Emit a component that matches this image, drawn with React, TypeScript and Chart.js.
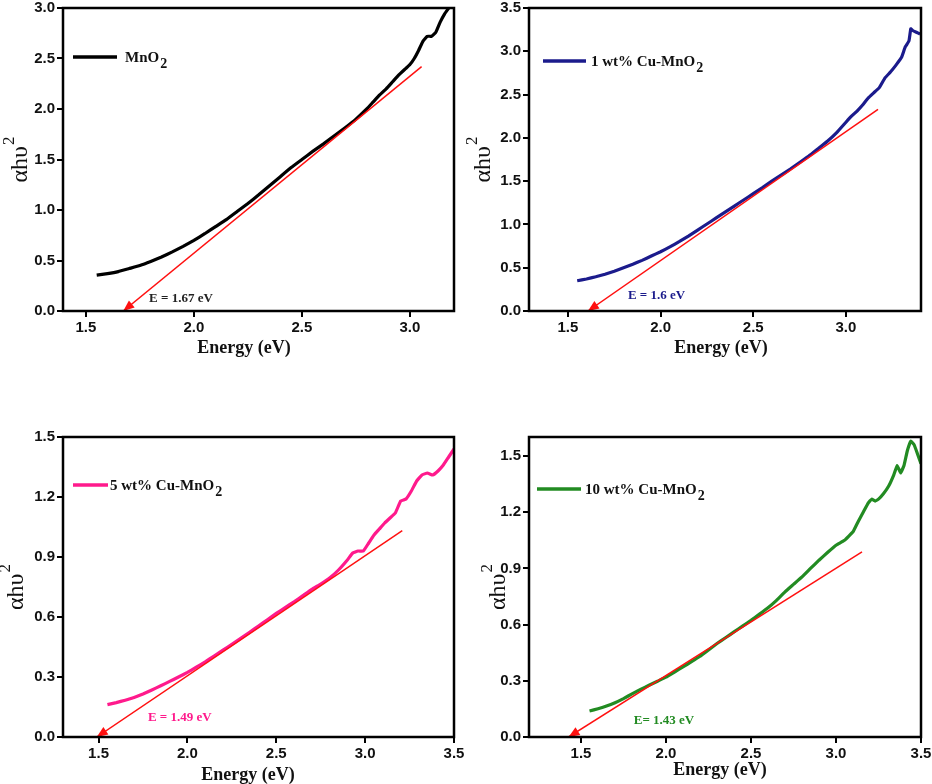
import React, { useEffect, useRef } from "react";
import { Chart, registerables } from "chart.js";

Chart.register(...registerables);

// ---------- DATA ----------
const ENERGY_MNO2 = [1.55, 1.6, 1.65, 1.7, 1.75, 1.8, 1.85, 1.9, 1.95, 2.0, 2.05, 2.1, 2.15, 2.2, 2.25, 2.3, 2.35, 2.4, 2.45, 2.5, 2.55, 2.6, 2.65, 2.7, 2.75, 2.8, 2.83, 2.86, 2.89, 2.92, 2.95, 2.98, 3.0, 3.02, 3.04, 3.06, 3.08, 3.1, 3.12, 3.14, 3.16, 3.18, 3.2];
const ALPHA_MNO2 = [0.355, 0.37, 0.39, 0.42, 0.45, 0.49, 0.535, 0.585, 0.64, 0.7, 0.765, 0.835, 0.905, 0.985, 1.065, 1.15, 1.24, 1.33, 1.42, 1.5, 1.58, 1.655, 1.735, 1.815, 1.9, 2.0, 2.07, 2.14, 2.2, 2.27, 2.34, 2.4, 2.44, 2.5, 2.58, 2.67, 2.72, 2.72, 2.76, 2.86, 2.94, 3.0, 3.06];

const ENERGY_CU1 = [1.55, 1.6, 1.65, 1.7, 1.75, 1.8, 1.85, 1.9, 1.95, 2.0, 2.05, 2.1, 2.15, 2.2, 2.25, 2.3, 2.35, 2.4, 2.45, 2.5, 2.55, 2.6, 2.65, 2.7, 2.75, 2.8, 2.85, 2.9, 2.95, 3.0, 3.03, 3.06, 3.09, 3.12, 3.15, 3.18, 3.21, 3.24, 3.27, 3.3, 3.32, 3.34, 3.35, 3.36, 3.38, 3.4];
const ALPHA_CU1 = [0.35, 0.37, 0.395, 0.425, 0.46, 0.5, 0.54, 0.585, 0.635, 0.685, 0.74, 0.8, 0.865, 0.935, 1.005, 1.075, 1.145, 1.215, 1.285, 1.355, 1.425, 1.5, 1.57, 1.64, 1.715, 1.79, 1.875, 1.96, 2.06, 2.18, 2.25, 2.31, 2.38, 2.46, 2.52, 2.58, 2.69, 2.76, 2.84, 2.93, 3.05, 3.12, 3.26, 3.24, 3.22, 3.2];

const ENERGY_CU5 = [1.55, 1.6, 1.65, 1.7, 1.75, 1.8, 1.85, 1.9, 1.95, 2.0, 2.05, 2.1, 2.15, 2.2, 2.25, 2.3, 2.35, 2.4, 2.45, 2.5, 2.55, 2.6, 2.65, 2.7, 2.75, 2.8, 2.85, 2.9, 2.93, 2.96, 2.99, 3.02, 3.05, 3.08, 3.11, 3.14, 3.17, 3.2, 3.23, 3.26, 3.29, 3.32, 3.35, 3.38, 3.41, 3.44, 3.47, 3.5];
const ALPHA_CU5 = [0.162, 0.172, 0.184, 0.198, 0.215, 0.235, 0.256, 0.278, 0.3, 0.323, 0.349, 0.376, 0.405, 0.434, 0.463, 0.493, 0.524, 0.555, 0.586, 0.618, 0.647, 0.676, 0.707, 0.738, 0.765, 0.795, 0.835, 0.885, 0.92, 0.93, 0.93, 0.97, 1.01, 1.04, 1.07, 1.095, 1.12, 1.18, 1.19, 1.23, 1.28, 1.31, 1.32, 1.31, 1.33, 1.36, 1.4, 1.44];

const ENERGY_CU10 = [1.55, 1.6, 1.65, 1.7, 1.75, 1.8, 1.85, 1.9, 1.95, 2.0, 2.05, 2.1, 2.15, 2.2, 2.25, 2.3, 2.35, 2.4, 2.45, 2.5, 2.55, 2.6, 2.65, 2.7, 2.75, 2.8, 2.85, 2.9, 2.95, 3.0, 3.05, 3.1, 3.13, 3.16, 3.19, 3.21, 3.23, 3.25, 3.28, 3.31, 3.34, 3.36, 3.38, 3.4, 3.42, 3.44, 3.46, 3.48, 3.5];
const ALPHA_CU10 = [0.139, 0.151, 0.165, 0.183, 0.205, 0.23, 0.254, 0.276, 0.298, 0.32, 0.347, 0.374, 0.402, 0.431, 0.465, 0.499, 0.53, 0.561, 0.592, 0.623, 0.656, 0.69, 0.73, 0.775, 0.815, 0.855, 0.9, 0.944, 0.985, 1.024, 1.05, 1.096, 1.15, 1.2, 1.25, 1.27, 1.26, 1.27, 1.3, 1.34, 1.4, 1.45, 1.41, 1.45, 1.53, 1.58, 1.56, 1.51, 1.46];

// Tauc tangent lines (start point is on the energy axis)
const FIT_X_MNO2 = [1.673, 3.054];
const FIT_Y_MNO2 = [0, 2.42];
const FIT_X_CU1 = [1.608, 3.173];
const FIT_Y_CU1 = [0, 2.33];
const FIT_X_CU5 = [1.49, 3.209];
const FIT_Y_CU5 = [0, 1.032];
const FIT_X_CU10 = [1.427, 3.153];
const FIT_Y_CU10 = [0, 0.989];

const SERIES_NAMES = ["MnO", "1 wt% Cu-MnO", "5 wt% Cu-MnO", "10 wt% Cu-MnO"];
const SERIES_SUB = "2";
const GAP_LABELS = ["E = 1.67 eV", "E = 1.6 eV", "E = 1.49 eV", "E= 1.43 eV"];
const GAP_LABEL_X = [1.94, 1.978, 1.957, 1.988];
const GAP_LABEL_Y = [0.12, 0.173, 0.095, 0.09];

const X_TICKS_TOP = [1.5, 2.0, 2.5, 3.0];
const X_TICKS_BOTTOM = [1.5, 2.0, 2.5, 3.0, 3.5];
const Y_TICKS_MNO2 = [0, 0.5, 1.0, 1.5, 2.0, 2.5, 3.0];
const Y_TICKS_CU1 = [0, 0.5, 1.0, 1.5, 2.0, 2.5, 3.0, 3.5];
const Y_TICKS_CU5 = [0, 0.3, 0.6, 0.9, 1.2, 1.5];
const Y_TICKS_CU10 = [0, 0.3, 0.6, 0.9, 1.2, 1.5];

const X_TITLE = "Energy (eV)";
const Y_TITLE_MAIN = "αhυ";
const Y_TITLE_SUP = "2";

// ---------- LAYOUT / STYLE ----------
const W = 466;
const H = 392;
const RED = "#ff1010";

interface PanelCfg {
  left: number;
  top: number;
  area: { L: number; R: number; T: number; B: number };
  xMin: number;
  xMax: number;
  yMax: number;
  xTicks: number[];
  yTicks: number[];
  energy: number[];
  alpha: number[];
  fitX: number[];
  fitY: number[];
  color: string;
  labelColor: string;
  name: string;
  gapLabel: string;
  gapX: number;
  gapY: number;
  legend: { x1: number; x2: number; y: number; tx: number };
  xTitleX: number;
  xTitleY: number;
  yTitleX: number;
}

const PANELS: PanelCfg[] = [
  {
    left: 0, top: 0,
    area: { L: 63, R: 454, T: 8, B: 311 },
    xMin: 1.394, xMax: 3.204, yMax: 3.0,
    xTicks: X_TICKS_TOP, yTicks: Y_TICKS_MNO2,
    energy: ENERGY_MNO2, alpha: ALPHA_MNO2, fitX: FIT_X_MNO2, fitY: FIT_Y_MNO2,
    color: "#000000", labelColor: "#222222",
    name: SERIES_NAMES[0], gapLabel: GAP_LABELS[0], gapX: GAP_LABEL_X[0], gapY: GAP_LABEL_Y[0],
    legend: { x1: 73, x2: 117, y: 57, tx: 125 },
    xTitleX: 244, xTitleY: 348, yTitleX: 18,
  },
  {
    left: 466, top: 0,
    area: { L: 63, R: 455, T: 8, B: 311 },
    xMin: 1.29, xMax: 3.405, yMax: 3.5,
    xTicks: X_TICKS_TOP, yTicks: Y_TICKS_CU1,
    energy: ENERGY_CU1, alpha: ALPHA_CU1, fitX: FIT_X_CU1, fitY: FIT_Y_CU1,
    color: "#1b1b8c", labelColor: "#1b1b8c",
    name: SERIES_NAMES[1], gapLabel: GAP_LABELS[1], gapX: GAP_LABEL_X[1], gapY: GAP_LABEL_Y[1],
    legend: { x1: 77, x2: 120, y: 61, tx: 125 },
    xTitleX: 255, xTitleY: 348, yTitleX: 15,
  },
  {
    left: 0, top: 392,
    area: { L: 63, R: 454, T: 45, B: 345 },
    xMin: 1.3, xMax: 3.5, yMax: 1.5,
    xTicks: X_TICKS_BOTTOM, yTicks: Y_TICKS_CU5,
    energy: ENERGY_CU5, alpha: ALPHA_CU5, fitX: FIT_X_CU5, fitY: FIT_Y_CU5,
    color: "#ff1a8c", labelColor: "#ff1a8c",
    name: SERIES_NAMES[2], gapLabel: GAP_LABELS[2], gapX: GAP_LABEL_X[2], gapY: GAP_LABEL_Y[2],
    legend: { x1: 73, x2: 108, y: 93, tx: 110 },
    xTitleX: 248, xTitleY: 383, yTitleX: 14,
  },
  {
    left: 466, top: 392,
    area: { L: 63, R: 455, T: 45, B: 345 },
    xMin: 1.194, xMax: 3.5, yMax: 1.602,
    xTicks: X_TICKS_BOTTOM, yTicks: Y_TICKS_CU10,
    energy: ENERGY_CU10, alpha: ALPHA_CU10, fitX: FIT_X_CU10, fitY: FIT_Y_CU10,
    color: "#228b22", labelColor: "#228b22",
    name: SERIES_NAMES[3], gapLabel: GAP_LABELS[3], gapX: GAP_LABEL_X[3], gapY: GAP_LABEL_Y[3],
    legend: { x1: 71, x2: 115, y: 97, tx: 119 },
    xTitleX: 254, xTitleY: 378, yTitleX: 30,
  },
];

const SERIF = "'Liberation Serif', 'Times New Roman', serif";
const SANS = "'Liberation Sans', Arial, sans-serif";

function Panel({ cfg }: { cfg: PanelCfg }) {
  const ref = useRef<HTMLCanvasElement>(null);

  useEffect(() => {
    const a = cfg.area;
    const decor = {
      id: "decor",
      afterDatasetsDraw(chart: any) {
        const { ctx, chartArea, scales } = chart;
        ctx.save();
        // arrowhead at the axis intercept of the tangent
        const meta = chart.getDatasetMeta(0);
        const p0 = meta.data[0];
        const p1 = meta.data[1];
        const ang = Math.atan2(p0.y - p1.y, p0.x - p1.x);
        const dx = Math.cos(ang), dy = Math.sin(ang);
        const len = 11, half = 4.5;
        const bx = p0.x - len * dx, by = p0.y - len * dy;
        ctx.fillStyle = RED;
        ctx.beginPath();
        ctx.moveTo(p0.x, p0.y);
        ctx.lineTo(bx - half * dy, by + half * dx);
        ctx.lineTo(bx + half * dy, by - half * dx);
        ctx.closePath();
        ctx.fill();

        // frame
        ctx.strokeStyle = "#000";
        ctx.lineWidth = 2.5;
        ctx.strokeRect(chartArea.left, chartArea.top, chartArea.right - chartArea.left, chartArea.bottom - chartArea.top);

        // band gap annotation
        ctx.fillStyle = cfg.labelColor;
        ctx.font = `bold 13px ${SERIF}`;
        ctx.textAlign = "center";
        ctx.textBaseline = "middle";
        ctx.fillText(cfg.gapLabel, scales.x.getPixelForValue(cfg.gapX), scales.y.getPixelForValue(cfg.gapY));

        // legend
        const lg = cfg.legend;
        ctx.strokeStyle = cfg.color;
        ctx.lineWidth = 3.5;
        ctx.beginPath();
        ctx.moveTo(lg.x1, lg.y);
        ctx.lineTo(lg.x2, lg.y);
        ctx.stroke();
        ctx.fillStyle = "#111";
        ctx.textAlign = "left";
        ctx.font = `bold 15px ${SERIF}`;
        ctx.fillText(cfg.name, lg.tx, lg.y + 1);
        const w1 = ctx.measureText(cfg.name).width;
        ctx.font = `bold 14px ${SERIF}`;
        ctx.fillText(SERIES_SUB, lg.tx + w1 + 1, lg.y + 7);

        // x title
        ctx.font = `bold 18px ${SERIF}`;
        ctx.textAlign = "center";
        ctx.fillStyle = "#111";
        ctx.fillText(X_TITLE, cfg.xTitleX, cfg.xTitleY);

        // y title (rotated)
        ctx.translate(cfg.yTitleX, (chartArea.top + chartArea.bottom) / 2);
        ctx.rotate(-Math.PI / 2);
        ctx.font = `24px ${SERIF}`;
        const mw = ctx.measureText(Y_TITLE_MAIN).width;
        ctx.font = `17px ${SERIF}`;
        const sw = ctx.measureText(Y_TITLE_SUP).width;
        const start = -(mw + sw + 1) / 2;
        ctx.textAlign = "left";
        ctx.font = `24px ${SERIF}`;
        ctx.fillText(Y_TITLE_MAIN, start, 3);
        ctx.font = `17px ${SERIF}`;
        ctx.fillText(Y_TITLE_SUP, start + mw + 1, -8);
        ctx.restore();
      },
    };

    const tickFont = { family: SANS, size: 15, weight: "bold" as const };
    const gridCfg = {
      display: true,
      drawOnChartArea: false,
      drawTicks: true,
      tickLength: 6,
      tickWidth: 2,
      tickColor: "#000",
      color: "#000",
      lineWidth: 2,
    };

    const chart = new Chart(ref.current as HTMLCanvasElement, {
      type: "line",
      data: {
        datasets: [
          {
            data: cfg.fitX.map((x, i) => ({ x, y: cfg.fitY[i] })),
            borderColor: RED,
            borderWidth: 1.5,
            pointRadius: 0,
            order: 0,
          },
          {
            data: cfg.energy.map((x, i) => ({ x, y: cfg.alpha[i] })),
            borderColor: cfg.color,
            borderWidth: 3.2,
            pointRadius: 0,
            tension: 0.1,
            order: 1,
          },
        ],
      },
      options: {
        animation: false,
        responsive: false,
        maintainAspectRatio: false,
        layout: { padding: { left: 0, top: a.T, right: W - a.R, bottom: 0 } },
        plugins: { legend: { display: false }, tooltip: { enabled: false } },
        scales: {
          x: {
            type: "linear",
            min: cfg.xMin,
            max: cfg.xMax,
            grid: gridCfg,
            border: { display: false },
            ticks: {
              color: "#111",
              font: tickFont,
              padding: 2,
              maxRotation: 0,
              callback: (v: any) => Number(v).toFixed(1),
            },
            afterBuildTicks: (s: any) => {
              s.ticks = cfg.xTicks.map((v) => ({ value: v }));
            },
            afterFit: (s: any) => {
              s.height = H - a.B;
              s.paddingLeft = 0;
              s.paddingRight = 0;
            },
          },
          y: {
            type: "linear",
            min: 0,
            max: cfg.yMax,
            grid: gridCfg,
            border: { display: false },
            ticks: {
              color: "#111",
              font: tickFont,
              padding: 2,
              callback: (v: any) => Number(v).toFixed(1),
            },
            afterBuildTicks: (s: any) => {
              s.ticks = cfg.yTicks.map((v) => ({ value: v }));
            },
            afterFit: (s: any) => {
              s.width = a.L;
              s.paddingTop = 0;
              s.paddingBottom = 0;
            },
          },
        },
      },
      plugins: [decor],
    } as any);

    return () => chart.destroy();
  }, [cfg]);

  return (
    <div style={{ position: "absolute", left: cfg.left, top: cfg.top, width: W, height: H }}>
      <canvas ref={ref} width={W} height={H} style={{ width: W, height: H, display: "block" }} />
    </div>
  );
}

export default function App() {
  return (
    <div style={{ position: "absolute", left: 0, top: 0, width: 932, height: 784, background: "#fff", overflow: "hidden" }}>
      {PANELS.map((p, i) => (
        <Panel key={i} cfg={p} />
      ))}
    </div>
  );
}
